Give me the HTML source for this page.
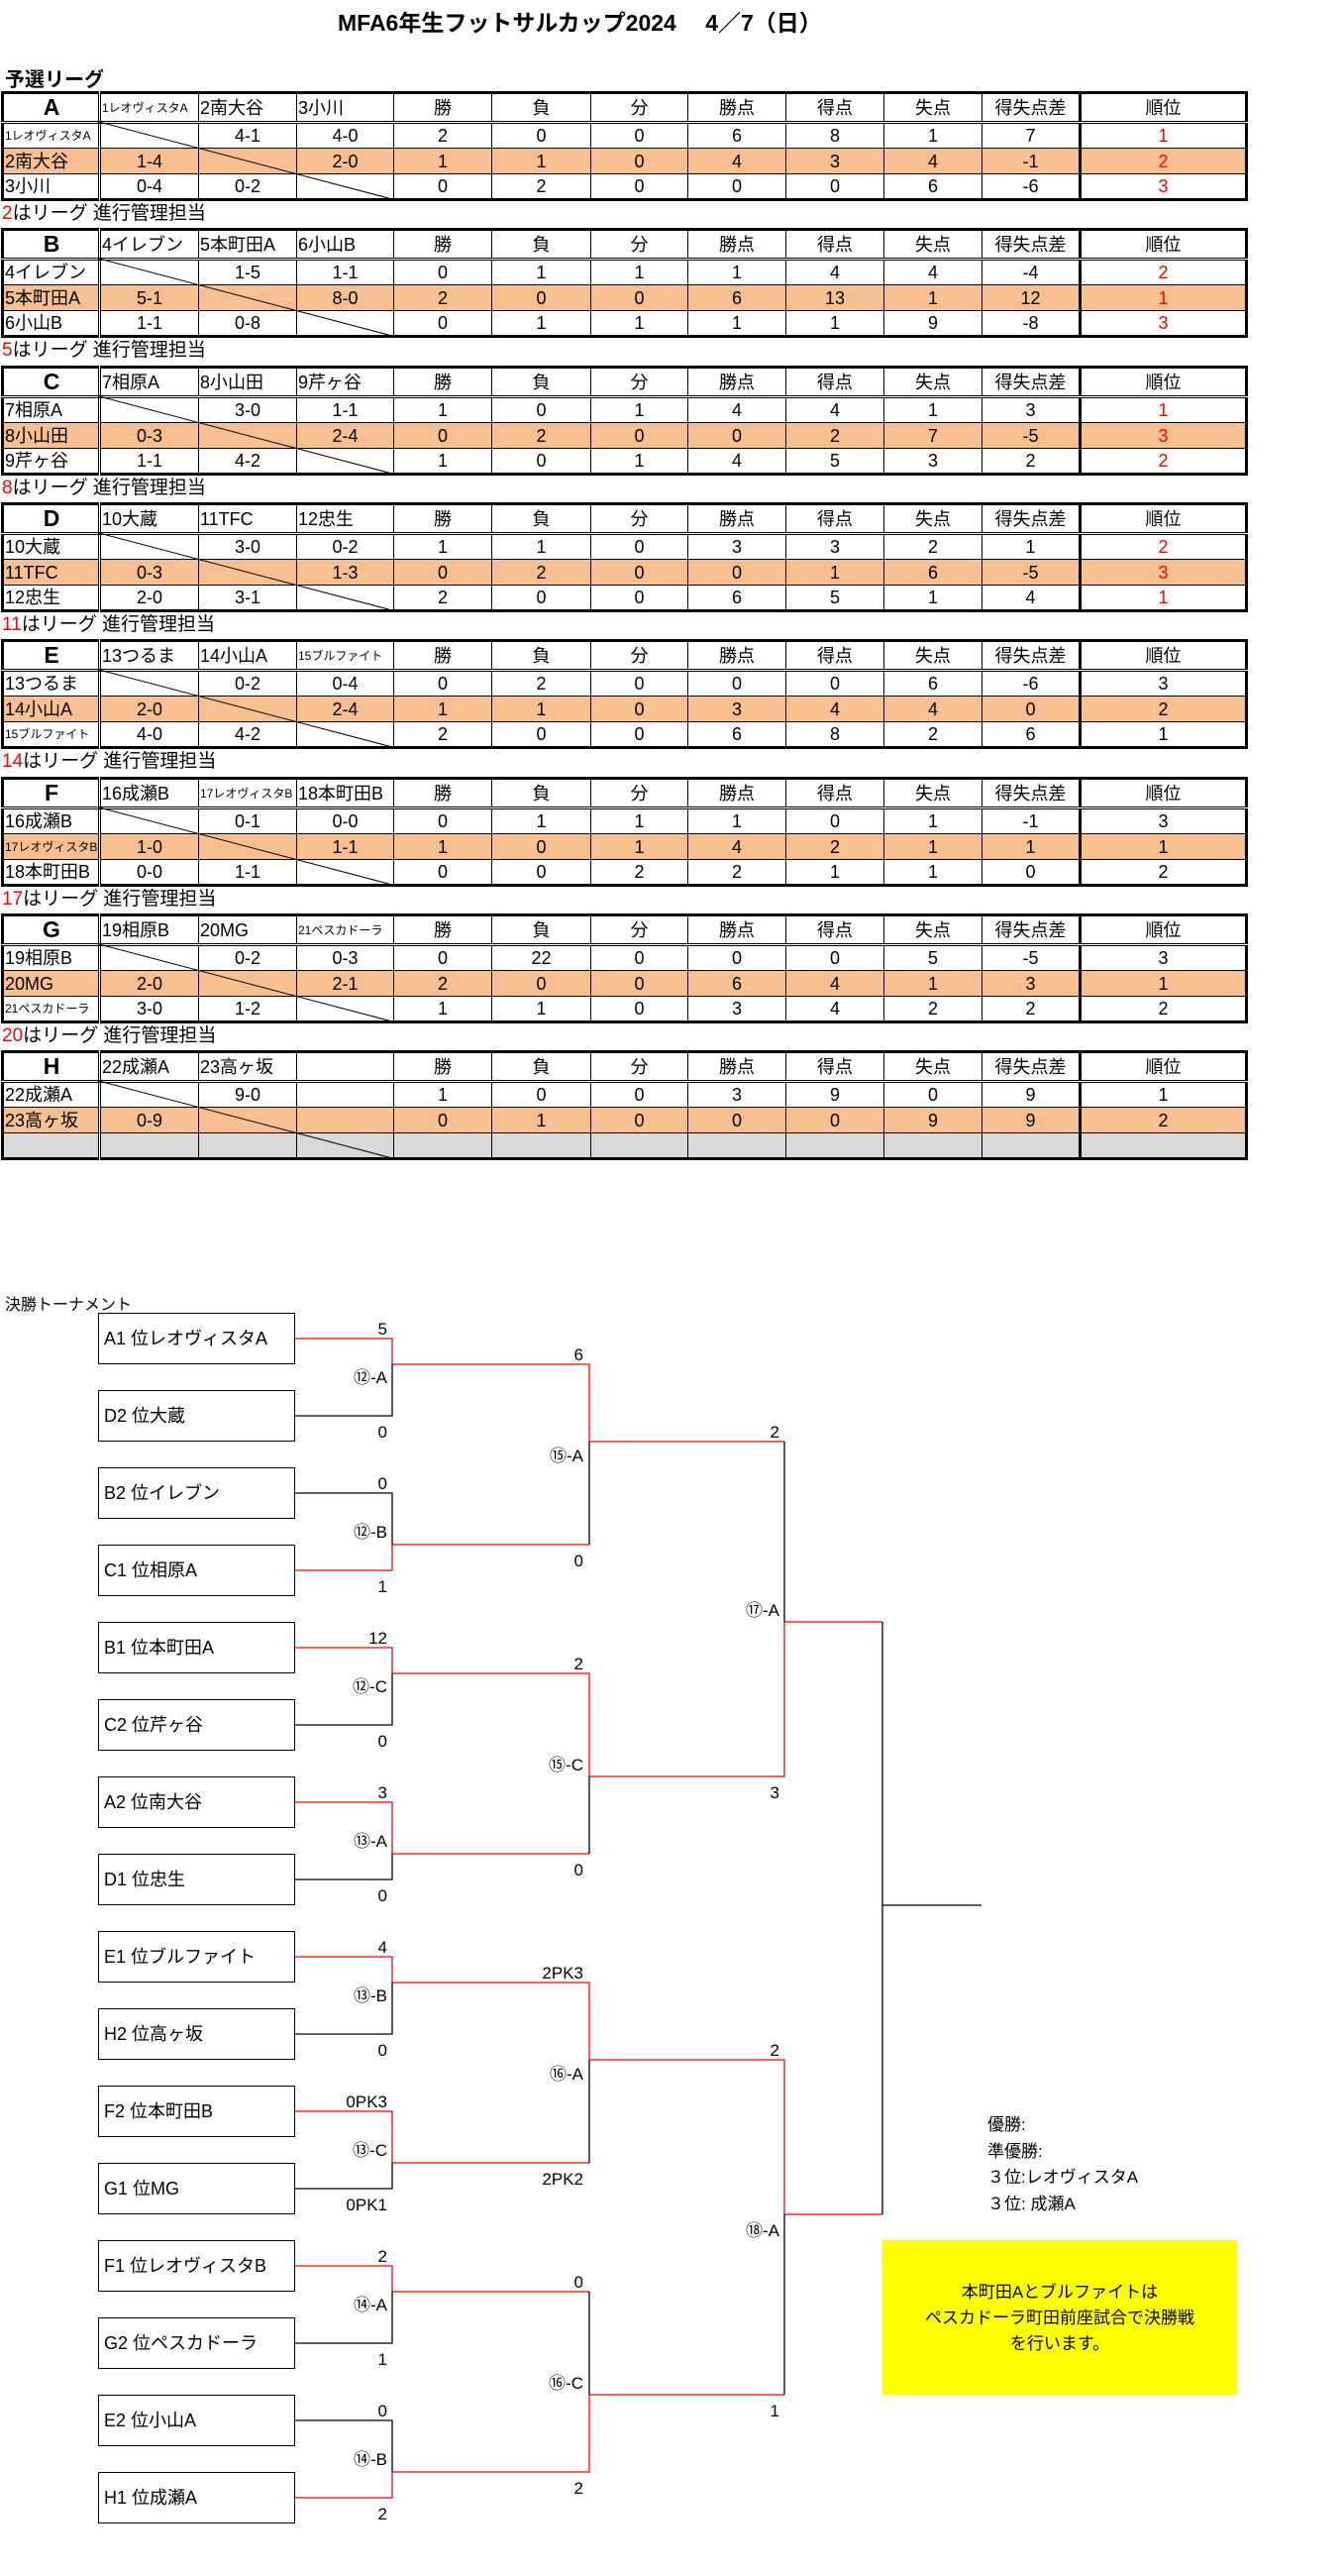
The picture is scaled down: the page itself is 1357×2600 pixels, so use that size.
<!DOCTYPE html>
<html><head><meta charset="utf-8">
<style>
*{margin:0;padding:0;box-sizing:border-box}
body{width:1357px;height:2600px;position:relative;background:#fff;font-family:"Liberation Sans","Noto Sans CJK JP",sans-serif;color:#000;overflow:hidden}
.title{position:absolute;left:341px;top:4px;font-size:23px;font-weight:bold;white-space:pre}
.yosen{position:absolute;left:5px;top:64px;font-size:20px;font-weight:bold}
table{position:absolute;left:1px;width:1256px;height:110px;border-collapse:collapse;table-layout:fixed;border:3px solid #000}
td{border:1px solid #000;padding:0;text-align:center;font-size:18px;white-space:nowrap;overflow:hidden;line-height:1}
tr.h{height:30px}
tr.h td{border-bottom:3px double #000}
tr.d{height:26px}
td.n{border-right:3px double #000;text-align:left;padding-left:1px}
tr.h td.n{text-align:center;font-weight:bold;font-size:23px;font-family:"Liberation Sans",sans-serif}
td.v{text-align:left;padding-left:1px}
td.sm{font-size:12px}
td.r{border-left:3px solid #000}
td.red{color:#f00}
tr.o td{background:#f8c090}
tr.g td{background:#d9d9d9}
.cap{position:absolute;left:2px;font-size:19px;height:28px;line-height:28px}
.cap b{color:#f00;font-weight:normal}
.box{position:absolute;left:99px;width:199px;height:52px;border:1.5px solid #000;font-size:18px;line-height:50px;padding-left:5px;white-space:nowrap}
.kt{position:absolute;left:5px;top:1303px;font-size:16px}
.res{position:absolute;left:997px;top:2132px;font-size:17px;line-height:26.5px}
.yel{position:absolute;left:891px;top:2261px;width:358px;height:156px;background:#ff0;font-size:17px;text-align:center;line-height:26px;padding-top:40px}
.c{font-family:"Noto Sans CJK JP",sans-serif}
</style></head><body>
<div class="title">MFA6年生フットサルカップ2024　 4／7（日）</div>
<div class="yosen">予選リーグ</div>

<!-- A -->
<table style="top:92px"><colgroup><col style="width:98px"><col style="width:100px"><col style="width:99px"><col style="width:98px"><col style="width:99px"><col style="width:100px"><col style="width:98px"><col style="width:99px"><col style="width:99px"><col style="width:99px"><col style="width:99px"><col style="width:168px"></colgroup>
<tr class="h"><td class="n">A</td><td class="v sm">1レオヴィスタA</td><td class="v">2南大谷</td><td class="v">3小川</td><td>勝</td><td>負</td><td>分</td><td>勝点</td><td>得点</td><td>失点</td><td>得失点差</td><td class="r">順位</td></tr>
<tr class="d"><td class="n sm">1レオヴィスタA</td><td></td><td>4-1</td><td>4-0</td><td>2</td><td>0</td><td>0</td><td>6</td><td>8</td><td>1</td><td>7</td><td class="r red">1</td></tr>
<tr class="d o"><td class="n">2南大谷</td><td>1-4</td><td></td><td>2-0</td><td>1</td><td>1</td><td>0</td><td>4</td><td>3</td><td>4</td><td>-1</td><td class="r red">2</td></tr>
<tr class="d"><td class="n">3小川</td><td>0-4</td><td>0-2</td><td></td><td>0</td><td>2</td><td>0</td><td>0</td><td>0</td><td>6</td><td>-6</td><td class="r red">3</td></tr>
</table>
<div class="cap" style="top:202px"><b>2</b>はリーグ 進行管理担当</div>

<!-- B -->
<table style="top:230px"><colgroup><col style="width:98px"><col style="width:100px"><col style="width:99px"><col style="width:98px"><col style="width:99px"><col style="width:100px"><col style="width:98px"><col style="width:99px"><col style="width:99px"><col style="width:99px"><col style="width:99px"><col style="width:168px"></colgroup>
<tr class="h"><td class="n">B</td><td class="v">4イレブン</td><td class="v">5本町田A</td><td class="v">6小山B</td><td>勝</td><td>負</td><td>分</td><td>勝点</td><td>得点</td><td>失点</td><td>得失点差</td><td class="r">順位</td></tr>
<tr class="d"><td class="n">4イレブン</td><td></td><td>1-5</td><td>1-1</td><td>0</td><td>1</td><td>1</td><td>1</td><td>4</td><td>4</td><td>-4</td><td class="r red">2</td></tr>
<tr class="d o"><td class="n">5本町田A</td><td>5-1</td><td></td><td>8-0</td><td>2</td><td>0</td><td>0</td><td>6</td><td>13</td><td>1</td><td>12</td><td class="r red">1</td></tr>
<tr class="d"><td class="n">6小山B</td><td>1-1</td><td>0-8</td><td></td><td>0</td><td>1</td><td>1</td><td>1</td><td>1</td><td>9</td><td>-8</td><td class="r red">3</td></tr>
</table>
<div class="cap" style="top:340px"><b>5</b>はリーグ 進行管理担当</div>

<!-- C -->
<table style="top:369px"><colgroup><col style="width:98px"><col style="width:100px"><col style="width:99px"><col style="width:98px"><col style="width:99px"><col style="width:100px"><col style="width:98px"><col style="width:99px"><col style="width:99px"><col style="width:99px"><col style="width:99px"><col style="width:168px"></colgroup>
<tr class="h"><td class="n">C</td><td class="v">7相原A</td><td class="v">8小山田</td><td class="v">9芹ヶ谷</td><td>勝</td><td>負</td><td>分</td><td>勝点</td><td>得点</td><td>失点</td><td>得失点差</td><td class="r">順位</td></tr>
<tr class="d"><td class="n">7相原A</td><td></td><td>3-0</td><td>1-1</td><td>1</td><td>0</td><td>1</td><td>4</td><td>4</td><td>1</td><td>3</td><td class="r red">1</td></tr>
<tr class="d o"><td class="n">8小山田</td><td>0-3</td><td></td><td>2-4</td><td>0</td><td>2</td><td>0</td><td>0</td><td>2</td><td>7</td><td>-5</td><td class="r red">3</td></tr>
<tr class="d"><td class="n">9芹ヶ谷</td><td>1-1</td><td>4-2</td><td></td><td>1</td><td>0</td><td>1</td><td>4</td><td>5</td><td>3</td><td>2</td><td class="r red">2</td></tr>
</table>
<div class="cap" style="top:479px"><b>8</b>はリーグ 進行管理担当</div>

<!-- D -->
<table style="top:507px"><colgroup><col style="width:98px"><col style="width:100px"><col style="width:99px"><col style="width:98px"><col style="width:99px"><col style="width:100px"><col style="width:98px"><col style="width:99px"><col style="width:99px"><col style="width:99px"><col style="width:99px"><col style="width:168px"></colgroup>
<tr class="h"><td class="n">D</td><td class="v">10大蔵</td><td class="v">11TFC</td><td class="v">12忠生</td><td>勝</td><td>負</td><td>分</td><td>勝点</td><td>得点</td><td>失点</td><td>得失点差</td><td class="r">順位</td></tr>
<tr class="d"><td class="n">10大蔵</td><td></td><td>3-0</td><td>0-2</td><td>1</td><td>1</td><td>0</td><td>3</td><td>3</td><td>2</td><td>1</td><td class="r red">2</td></tr>
<tr class="d o"><td class="n">11TFC</td><td>0-3</td><td></td><td>1-3</td><td>0</td><td>2</td><td>0</td><td>0</td><td>1</td><td>6</td><td>-5</td><td class="r red">3</td></tr>
<tr class="d"><td class="n">12忠生</td><td>2-0</td><td>3-1</td><td></td><td>2</td><td>0</td><td>0</td><td>6</td><td>5</td><td>1</td><td>4</td><td class="r red">1</td></tr>
</table>
<div class="cap" style="top:617px"><b>11</b>はリーグ 進行管理担当</div>

<!-- E -->
<table style="top:645px"><colgroup><col style="width:98px"><col style="width:100px"><col style="width:99px"><col style="width:98px"><col style="width:99px"><col style="width:100px"><col style="width:98px"><col style="width:99px"><col style="width:99px"><col style="width:99px"><col style="width:99px"><col style="width:168px"></colgroup>
<tr class="h"><td class="n">E</td><td class="v">13つるま</td><td class="v">14小山A</td><td class="v sm">15ブルファイト</td><td>勝</td><td>負</td><td>分</td><td>勝点</td><td>得点</td><td>失点</td><td>得失点差</td><td class="r">順位</td></tr>
<tr class="d"><td class="n">13つるま</td><td></td><td>0-2</td><td>0-4</td><td>0</td><td>2</td><td>0</td><td>0</td><td>0</td><td>6</td><td>-6</td><td class="r">3</td></tr>
<tr class="d o"><td class="n">14小山A</td><td>2-0</td><td></td><td>2-4</td><td>1</td><td>1</td><td>0</td><td>3</td><td>4</td><td>4</td><td>0</td><td class="r">2</td></tr>
<tr class="d"><td class="n sm">15ブルファイト</td><td>4-0</td><td>4-2</td><td></td><td>2</td><td>0</td><td>0</td><td>6</td><td>8</td><td>2</td><td>6</td><td class="r">1</td></tr>
</table>
<div class="cap" style="top:755px"><b>14</b>はリーグ 進行管理担当</div>

<!-- F -->
<table style="top:784px"><colgroup><col style="width:98px"><col style="width:100px"><col style="width:99px"><col style="width:98px"><col style="width:99px"><col style="width:100px"><col style="width:98px"><col style="width:99px"><col style="width:99px"><col style="width:99px"><col style="width:99px"><col style="width:168px"></colgroup>
<tr class="h"><td class="n">F</td><td class="v">16成瀬B</td><td class="v sm">17レオヴィスタB</td><td class="v">18本町田B</td><td>勝</td><td>負</td><td>分</td><td>勝点</td><td>得点</td><td>失点</td><td>得失点差</td><td class="r">順位</td></tr>
<tr class="d"><td class="n">16成瀬B</td><td></td><td>0-1</td><td>0-0</td><td>0</td><td>1</td><td>1</td><td>1</td><td>0</td><td>1</td><td>-1</td><td class="r">3</td></tr>
<tr class="d o"><td class="n sm">17レオヴィスタB</td><td>1-0</td><td></td><td>1-1</td><td>1</td><td>0</td><td>1</td><td>4</td><td>2</td><td>1</td><td>1</td><td class="r">1</td></tr>
<tr class="d"><td class="n">18本町田B</td><td>0-0</td><td>1-1</td><td></td><td>0</td><td>0</td><td>2</td><td>2</td><td>1</td><td>1</td><td>0</td><td class="r">2</td></tr>
</table>
<div class="cap" style="top:894px"><b>17</b>はリーグ 進行管理担当</div>

<!-- G -->
<table style="top:922px"><colgroup><col style="width:98px"><col style="width:100px"><col style="width:99px"><col style="width:98px"><col style="width:99px"><col style="width:100px"><col style="width:98px"><col style="width:99px"><col style="width:99px"><col style="width:99px"><col style="width:99px"><col style="width:168px"></colgroup>
<tr class="h"><td class="n">G</td><td class="v">19相原B</td><td class="v">20MG</td><td class="v sm">21ペスカドーラ</td><td>勝</td><td>負</td><td>分</td><td>勝点</td><td>得点</td><td>失点</td><td>得失点差</td><td class="r">順位</td></tr>
<tr class="d"><td class="n">19相原B</td><td></td><td>0-2</td><td>0-3</td><td>0</td><td>22</td><td>0</td><td>0</td><td>0</td><td>5</td><td>-5</td><td class="r">3</td></tr>
<tr class="d o"><td class="n">20MG</td><td>2-0</td><td></td><td>2-1</td><td>2</td><td>0</td><td>0</td><td>6</td><td>4</td><td>1</td><td>3</td><td class="r">1</td></tr>
<tr class="d"><td class="n sm">21ペスカドーラ</td><td>3-0</td><td>1-2</td><td></td><td>1</td><td>1</td><td>0</td><td>3</td><td>4</td><td>2</td><td>2</td><td class="r">2</td></tr>
</table>
<div class="cap" style="top:1032px"><b>20</b>はリーグ 進行管理担当</div>

<!-- H -->
<table style="top:1060px"><colgroup><col style="width:98px"><col style="width:100px"><col style="width:99px"><col style="width:98px"><col style="width:99px"><col style="width:100px"><col style="width:98px"><col style="width:99px"><col style="width:99px"><col style="width:99px"><col style="width:99px"><col style="width:168px"></colgroup>
<tr class="h"><td class="n">H</td><td class="v">22成瀬A</td><td class="v">23高ヶ坂</td><td class="v"></td><td>勝</td><td>負</td><td>分</td><td>勝点</td><td>得点</td><td>失点</td><td>得失点差</td><td class="r">順位</td></tr>
<tr class="d"><td class="n">22成瀬A</td><td></td><td>9-0</td><td></td><td>1</td><td>0</td><td>0</td><td>3</td><td>9</td><td>0</td><td>9</td><td class="r">1</td></tr>
<tr class="d o"><td class="n">23高ヶ坂</td><td>0-9</td><td></td><td></td><td>0</td><td>1</td><td>0</td><td>0</td><td>0</td><td>9</td><td>9</td><td class="r">2</td></tr>
<tr class="d g"><td class="n"></td><td></td><td></td><td></td><td></td><td></td><td></td><td></td><td></td><td></td><td></td><td class="r"></td></tr>
</table>

<svg style="position:absolute;left:0;top:0" width="1357" height="1200">
<g stroke="#000" stroke-width="1">
<line x1="100" y1="123" x2="396" y2="201"/>
<line x1="100" y1="261" x2="396" y2="339"/>
<line x1="100" y1="400" x2="396" y2="478"/>
<line x1="100" y1="538" x2="396" y2="616"/>
<line x1="100" y1="676" x2="396" y2="754"/>
<line x1="100" y1="815" x2="396" y2="893"/>
<line x1="100" y1="953" x2="396" y2="1031"/>
<line x1="100" y1="1091" x2="396" y2="1169"/>
</g></svg>

<div class="kt">決勝トーナメント</div>
<div class="box" style="top:1325px">A1 位レオヴィスタA</div>
<div class="box" style="top:1403px">D2 位大蔵</div>
<div class="box" style="top:1481px">B2 位イレブン</div>
<div class="box" style="top:1559px">C1 位相原A</div>
<div class="box" style="top:1637px">B1 位本町田A</div>
<div class="box" style="top:1715px">C2 位芹ヶ谷</div>
<div class="box" style="top:1793px">A2 位南大谷</div>
<div class="box" style="top:1871px">D1 位忠生</div>
<div class="box" style="top:1949px">E1 位ブルファイト</div>
<div class="box" style="top:2027px">H2 位高ヶ坂</div>
<div class="box" style="top:2105px">F2 位本町田B</div>
<div class="box" style="top:2183px">G1 位MG</div>
<div class="box" style="top:2261px">F1 位レオヴィスタB</div>
<div class="box" style="top:2339px">G2 位ペスカドーラ</div>
<div class="box" style="top:2417px">E2 位小山A</div>
<div class="box" style="top:2495px">H1 位成瀬A</div>

<svg style="position:absolute;left:0;top:0" width="1357" height="2600" font-family="Liberation Sans, Noto Sans CJK JP, sans-serif" font-size="17">
<g fill="none" stroke-width="1.3">
<g stroke="#f00">
<path d="M298 1351H396V1377"/><path d="M396 1559V1585H298"/><path d="M298 1663H396V1689"/><path d="M298 1819H396V1871"/>
<path d="M298 1975H396V2001"/><path d="M298 2131H396V2183"/><path d="M298 2287H396V2313"/><path d="M396 2495V2521H298"/>
<path d="M396 1377H595V1455"/><path d="M396 1689H595V1793"/><path d="M396 2001H595V2079"/><path d="M595 2417V2495H396"/>
<path d="M396 1559H595"/><path d="M396 1871H595"/><path d="M396 2183H595"/><path d="M396 2313H595"/>
<path d="M595 1455H792"/><path d="M792 1637V1793H595"/><path d="M595 2079H792V2235"/><path d="M595 2417H792"/>
<path d="M792 1637H891"/><path d="M792 2235H891"/>
</g>
<g stroke="#000">
<path d="M396 1377V1429H298"/><path d="M298 1507H396V1559"/><path d="M396 1689V1741H298"/><path d="M396 1871V1897H298"/>
<path d="M396 2001V2053H298"/><path d="M396 2183V2209H298"/><path d="M396 2313V2365H298"/><path d="M298 2443H396V2495"/>
<path d="M595 1455V1559"/><path d="M595 1793V1871"/><path d="M595 2079V2183"/><path d="M595 2313V2417"/>
<path d="M792 1455V1637"/><path d="M792 2235V2417"/>
<path d="M891 1637V2235"/><path d="M891 1923H991"/>
</g>
</g>
<g text-anchor="end" fill="#000">
<text x="391" y="1347">5</text><text x="391" y="1451">0</text><text x="391" y="1396"><tspan class="c">⑫</tspan>-A</text>
<text x="391" y="1503">0</text><text x="391" y="1607">1</text><text x="391" y="1552"><tspan class="c">⑫</tspan>-B</text>
<text x="391" y="1659">12</text><text x="391" y="1763">0</text><text x="391" y="1708"><tspan class="c">⑫</tspan>-C</text>
<text x="391" y="1815">3</text><text x="391" y="1919">0</text><text x="391" y="1864"><tspan class="c">⑬</tspan>-A</text>
<text x="391" y="1971">4</text><text x="391" y="2075">0</text><text x="391" y="2020"><tspan class="c">⑬</tspan>-B</text>
<text x="391" y="2127">0PK3</text><text x="391" y="2231">0PK1</text><text x="391" y="2176"><tspan class="c">⑬</tspan>-C</text>
<text x="391" y="2283">2</text><text x="391" y="2387">1</text><text x="391" y="2332"><tspan class="c">⑭</tspan>-A</text>
<text x="391" y="2439">0</text><text x="391" y="2543">2</text><text x="391" y="2488"><tspan class="c">⑭</tspan>-B</text>
<text x="589" y="1373">6</text><text x="589" y="1581">0</text><text x="589" y="1475"><tspan class="c">⑮</tspan>-A</text>
<text x="589" y="1685">2</text><text x="589" y="1893">0</text><text x="589" y="1787"><tspan class="c">⑮</tspan>-C</text>
<text x="589" y="1997">2PK3</text><text x="589" y="2205">2PK2</text><text x="589" y="2099"><tspan class="c">⑯</tspan>-A</text>
<text x="589" y="2309">0</text><text x="589" y="2517">2</text><text x="589" y="2411"><tspan class="c">⑯</tspan>-C</text>
<text x="787" y="1451">2</text><text x="787" y="1815">3</text><text x="787" y="1631"><tspan class="c">⑰</tspan>-A</text>
<text x="787" y="2075">2</text><text x="787" y="2439">1</text><text x="787" y="2257"><tspan class="c">⑱</tspan>-A</text>
</g>
</svg>

<div class="res">優勝:<br>準優勝:<br>３位:レオヴィスタA<br>３位: 成瀬A</div>
<div class="yel">本町田Aとブルファイトは<br>ペスカドーラ町田前座試合で決勝戦<br>を行います。</div>
</body></html>
